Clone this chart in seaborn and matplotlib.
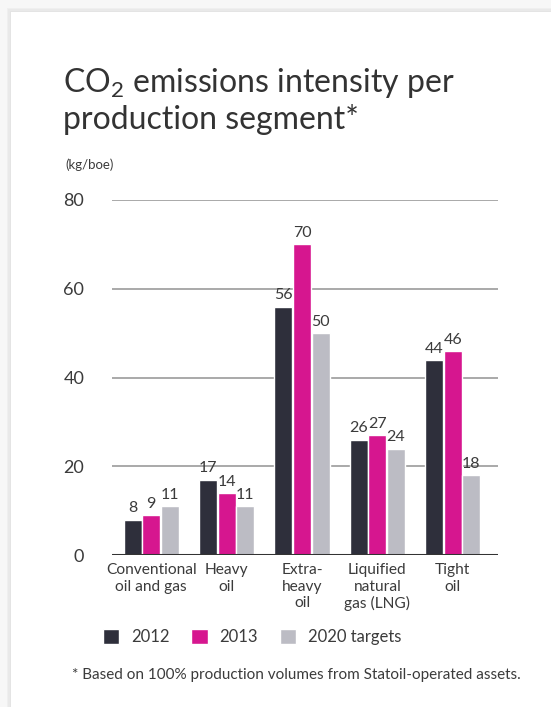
import matplotlib
matplotlib.use("Agg")
import matplotlib.pyplot as plt
from matplotlib.patches import Rectangle
import seaborn as sns
import pandas as pd

# Data
categories = ["Conventional\noil and gas", "Heavy\noil", "Extra-\nheavy\noil",
              "Liquified\nnatural\ngas (LNG)", "Tight\noil"]
series_names = ["2012", "2013", "2020 targets"]
v2012 = [8, 17, 56, 26, 44]
v2013 = [9, 14, 70, 27, 46]
v2020 = [11, 11, 50, 24, 18]
y_ticks = [0, 20, 40, 60, 80]

colors = ["#2e2f3b", "#d6168f", "#bcbcc4"]
text_col = "#3b3b3b"

sns.set_theme(style="white")
plt.rcParams["font.family"] = ["Lato", "DejaVu Sans"]
plt.rcParams["mathtext.fontset"] = "custom"
plt.rcParams["mathtext.rm"] = "Lato"

df = pd.DataFrame({
    "segment": categories * 3,
    "series": [s for s in series_names for _ in categories],
    "value": v2012 + v2013 + v2020,
})

W, H = 551, 707
fig = plt.figure(figsize=(W / 100, H / 100), dpi=100, facecolor="#f7f7f7")

# card with soft shadow
for i, c in enumerate(["#efefef", "#e9e9e9", "#e4e4e4"]):
    off = 4 - i * 1.3
    fig.add_artist(Rectangle(((11 - off) / W, -0.1), 1.2, 1 - (12 - off) / H + 0.1,
                             transform=fig.transFigure, facecolor=c, edgecolor="none", zorder=0))
fig.add_artist(Rectangle((11 / W, -0.1), 1.2, 1 - 12 / H + 0.1,
                         transform=fig.transFigure, facecolor="white", edgecolor="none", zorder=0))

ax = fig.add_axes([112 / W, 1 - 555 / H, (498 - 112) / W, (555 - 200) / H])
ax.set_facecolor("none")

sns.barplot(data=df, x="segment", y="value", hue="series", palette=colors,
            saturation=1, width=0.74, gap=0.04, ax=ax, legend=True, zorder=3)

for cont in ax.containers:
    ax.bar_label(cont, padding=3, fontsize=11.5, color=text_col)

ax.set_ylim(0, 80)
ax.set_xlim(-0.52, 4.6)
ax.set_yticks(y_ticks)
ax.set_yticklabels([str(t) for t in y_ticks], fontsize=13, color=text_col)
for t in y_ticks[1:]:
    ax.axhline(t, color="#a3a3a3", lw=1.3, zorder=1)
ax.axhline(0, color="#333333", lw=2.2, zorder=4)
ax.tick_params(axis="y", length=0, pad=20)
ax.tick_params(axis="x", length=0, pad=6, labelsize=11.2, labelcolor=text_col)
ax.set_xlabel("")
ax.set_ylabel("")
for s in ax.spines.values():
    s.set_visible(False)
for lbl in ax.get_xticklabels():
    lbl.set_linespacing(1.2)

leg = ax.legend(loc="upper left", bbox_to_anchor=(96 / W, 1 - 622 / H),
                bbox_transform=fig.transFigure, ncol=3, frameon=False,
                fontsize=12, handlelength=1.0, handleheight=1.0,
                handletextpad=0.7, columnspacing=1.3, borderaxespad=0)
for t in leg.get_texts():
    t.set_color(text_col)

fig.text(63 / W, 1 - 92 / H, r"CO$_\mathrm{2}$ emissions intensity per", fontsize=23,
         color="#333333", ha="left", va="baseline")
fig.text(63 / W, 1 - 129 / H, "production segment*", fontsize=23,
         color="#333333", ha="left", va="baseline")
fig.text(65 / W, 1 - 169 / H, "(kg/boe)", fontsize=9.5, color=text_col,
         ha="left", va="baseline")
fig.text(72 / W, 1 - 679 / H, "* Based on 100% production volumes from Statoil-operated assets.",
         fontsize=11, color=text_col, ha="left", va="baseline")

fig.savefig("out.png", dpi=100, facecolor=fig.get_facecolor())
